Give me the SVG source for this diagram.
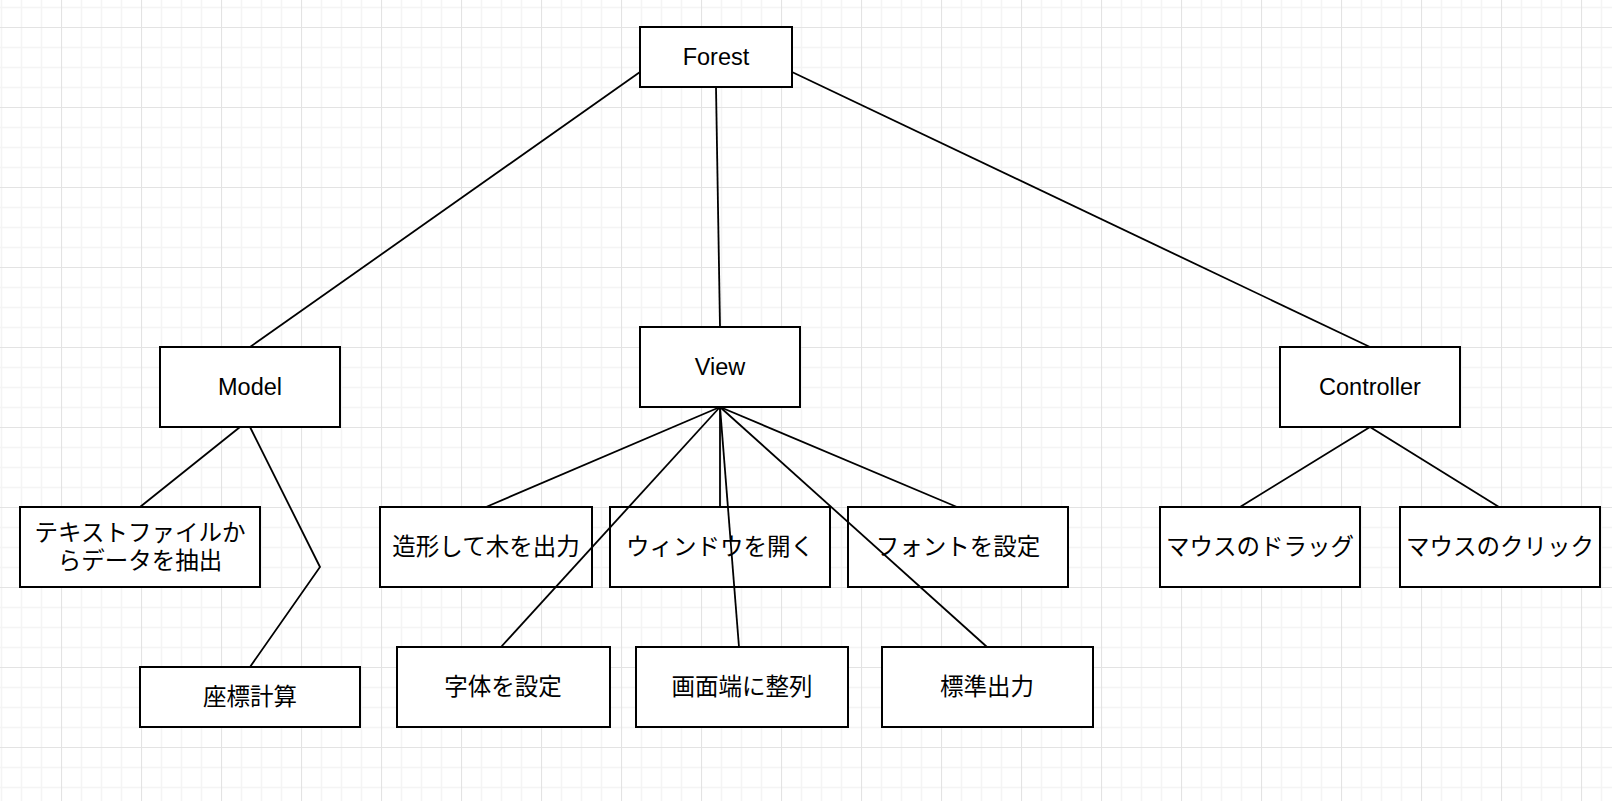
<svg xmlns="http://www.w3.org/2000/svg" width="1612" height="801" viewBox="0 0 1612 801">
<style>
.box{fill:#fff;stroke:#000;stroke-width:2}
.t{font-family:"Liberation Sans","Noto Sans CJK JP",sans-serif;font-size:23.5px;fill:#000;text-anchor:middle;dominant-baseline:central}
.e{fill:none;stroke:#000;stroke-width:1.8}
</style>
<defs>
<pattern id="grid" x="61" y="27" width="80" height="80" patternUnits="userSpaceOnUse">
<path d="M0 20.5H80M0 40.5H80M0 60.5H80M20.5 0V80M40.5 0V80M60.5 0V80" stroke="#f4f4f4" stroke-width="1.5" fill="none"/>
<path d="M0 0.5H80M0.5 0V80" stroke="#e3e3e3" stroke-width="1.2" fill="none"/>
</pattern>
</defs>
<rect width="1612" height="801" fill="#fff"/>
<rect width="1612" height="801" fill="url(#grid)"/>
<g id="nodes">
<g id="forest"><rect class="box" x="640" y="27" width="152" height="60"/><text class="t" x="716" y="57">Forest</text></g>
<g id="model"><rect class="box" x="160" y="347" width="180" height="80"/><text class="t" x="250" y="387">Model</text></g>
<g id="view"><rect class="box" x="640" y="327" width="160" height="80"/><text class="t" x="720" y="367">View</text></g>
<g id="controller"><rect class="box" x="1280" y="347" width="180" height="80"/><text class="t" x="1370" y="387">Controller</text></g>
<g id="extract"><rect class="box" x="20" y="507" width="240" height="80"/><text class="t" x="140" y="533">テキストファイルか</text><text class="t" x="140" y="561">らデータを抽出</text></g>
<g id="coords"><rect class="box" x="140" y="667" width="220" height="60"/><text class="t" x="250" y="697">座標計算</text></g>
<g id="shape"><rect class="box" x="380" y="507" width="212" height="80"/><text class="t" x="486" y="547">造形して木を出力</text></g>
<g id="window"><rect class="box" x="610" y="507" width="220" height="80"/><text class="t" x="720" y="547">ウィンドウを開く</text></g>
<g id="font"><rect class="box" x="848" y="507" width="220" height="80"/><text class="t" x="958" y="547">フォントを設定</text></g>
<g id="typeface"><rect class="box" x="397" y="647" width="213" height="80"/><text class="t" x="503" y="687">字体を設定</text></g>
<g id="align"><rect class="box" x="636" y="647" width="212" height="80"/><text class="t" x="742" y="687">画面端に整列</text></g>
<g id="stdout"><rect class="box" x="882" y="647" width="211" height="80"/><text class="t" x="987" y="687">標準出力</text></g>
<g id="drag"><rect class="box" x="1160" y="507" width="200" height="80"/><text class="t" x="1260" y="547">マウスのドラッグ</text></g>
<g id="click"><rect class="box" x="1400" y="507" width="200" height="80"/><text class="t" x="1500" y="547">マウスのクリック</text></g>
</g>
<g id="connectors">
<path class="e" d="M640 72L250 347"/>
<path class="e" d="M716 87L720 327"/>
<path class="e" d="M792 72L1370 347"/>
<path class="e" d="M240 427L140 507"/>
<path class="e" d="M250 427L320 567L250 667"/>
<path class="e" d="M720 407L486 507"/>
<path class="e" d="M720 407L720 507"/>
<path class="e" d="M720 407L501 647"/>
<path class="e" d="M720 407L739 647"/>
<path class="e" d="M720 407L987 647"/>
<path class="e" d="M720 407L957 507"/>
<path class="e" d="M1370 427L1240 507"/>
<path class="e" d="M1370 427L1499 507"/>
</g>
</svg>
